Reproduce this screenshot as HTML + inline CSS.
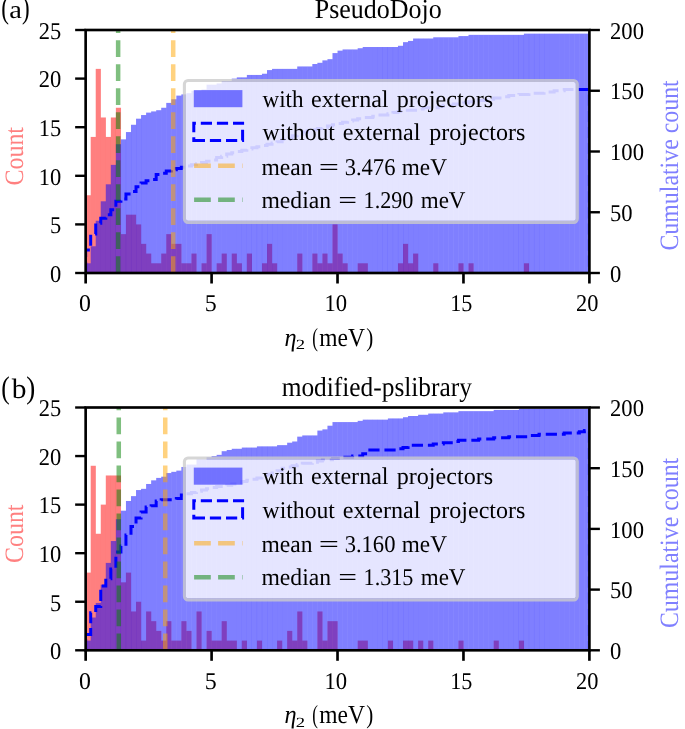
<!DOCTYPE html><html><head><meta charset="utf-8"><title>fig</title><style>html,body{margin:0;padding:0;background:#fff}svg{display:block}text{font-family:"Liberation Serif", serif;fill:#000;text-rendering:geometricPrecision}</style></head><body>
<svg width="685" height="729" viewBox="0 0 685 729" style="will-change:transform">
<rect width="685" height="729" fill="#fff"/>
<g>
<clipPath id="cp0"><rect x="86.85000000000001" y="30.0" width="501.35" height="243.0"/></clipPath>
<g fill="#ff0000" fill-opacity="0.5">
<rect x="85.65" y="195.24" width="5.14" height="77.76"/>
<rect x="90.69" y="136.92" width="5.14" height="136.08"/>
<rect x="95.73" y="68.88" width="5.14" height="204.12"/>
<rect x="100.76" y="117.48" width="5.14" height="155.52"/>
<rect x="105.80" y="136.92" width="5.14" height="136.08"/>
<rect x="110.84" y="117.48" width="5.14" height="155.52"/>
<rect x="115.88" y="107.76" width="5.14" height="165.24"/>
<rect x="120.91" y="234.12" width="5.14" height="38.88"/>
<rect x="125.95" y="214.68" width="5.14" height="58.32"/>
<rect x="130.99" y="214.68" width="5.14" height="58.32"/>
<rect x="136.03" y="224.40" width="5.14" height="48.60"/>
<rect x="141.06" y="243.84" width="5.14" height="29.16"/>
<rect x="146.10" y="253.56" width="5.14" height="19.44"/>
<rect x="151.14" y="263.28" width="5.14" height="9.72"/>
<rect x="156.18" y="263.28" width="5.14" height="9.72"/>
<rect x="161.21" y="253.56" width="5.14" height="19.44"/>
<rect x="166.25" y="234.12" width="5.14" height="38.88"/>
<rect x="171.29" y="243.84" width="5.14" height="29.16"/>
<rect x="176.33" y="243.84" width="5.14" height="29.16"/>
<rect x="181.36" y="263.28" width="5.14" height="9.72"/>
<rect x="186.40" y="263.28" width="5.14" height="9.72"/>
<rect x="191.44" y="253.56" width="5.14" height="19.44"/>
<rect x="201.51" y="263.28" width="5.14" height="9.72"/>
<rect x="206.55" y="234.12" width="5.14" height="38.88"/>
<rect x="216.63" y="263.28" width="5.14" height="9.72"/>
<rect x="221.66" y="253.56" width="5.14" height="19.44"/>
<rect x="231.74" y="253.56" width="5.14" height="19.44"/>
<rect x="236.78" y="263.28" width="5.14" height="9.72"/>
<rect x="246.85" y="253.56" width="5.14" height="19.44"/>
<rect x="261.96" y="263.28" width="5.14" height="9.72"/>
<rect x="267.00" y="243.84" width="5.14" height="29.16"/>
<rect x="272.04" y="263.28" width="5.14" height="9.72"/>
<rect x="297.23" y="253.56" width="5.14" height="19.44"/>
<rect x="312.34" y="253.56" width="5.14" height="19.44"/>
<rect x="317.38" y="263.28" width="5.14" height="9.72"/>
<rect x="322.41" y="253.56" width="5.14" height="19.44"/>
<rect x="327.45" y="263.28" width="5.14" height="9.72"/>
<rect x="332.49" y="224.40" width="5.14" height="48.60"/>
<rect x="337.53" y="253.56" width="5.14" height="19.44"/>
<rect x="342.56" y="263.28" width="5.14" height="9.72"/>
<rect x="357.68" y="263.28" width="5.14" height="9.72"/>
<rect x="362.71" y="263.28" width="5.14" height="9.72"/>
<rect x="397.98" y="263.28" width="5.14" height="9.72"/>
<rect x="403.01" y="243.84" width="5.14" height="29.16"/>
<rect x="408.05" y="263.28" width="5.14" height="9.72"/>
<rect x="413.09" y="253.56" width="5.14" height="19.44"/>
<rect x="433.24" y="263.28" width="5.14" height="9.72"/>
<rect x="458.43" y="263.28" width="5.14" height="9.72"/>
<rect x="468.50" y="263.28" width="5.14" height="9.72"/>
<rect x="523.91" y="263.28" width="5.14" height="9.72"/>
</g>
<g fill="#0000ff" fill-opacity="0.5">
<rect x="85.65" y="263.28" width="5.14" height="9.72"/>
<rect x="90.69" y="246.27" width="5.14" height="26.73"/>
<rect x="95.73" y="220.75" width="5.14" height="52.25"/>
<rect x="100.76" y="201.31" width="5.14" height="71.69"/>
<rect x="105.80" y="184.31" width="5.14" height="88.70"/>
<rect x="110.84" y="164.87" width="5.14" height="108.14"/>
<rect x="115.88" y="144.21" width="5.14" height="128.79"/>
<rect x="120.91" y="139.35" width="5.14" height="133.65"/>
<rect x="125.95" y="132.06" width="5.14" height="140.94"/>
<rect x="130.99" y="124.77" width="5.14" height="148.23"/>
<rect x="136.03" y="118.69" width="5.14" height="154.31"/>
<rect x="141.06" y="115.05" width="5.14" height="157.95"/>
<rect x="146.10" y="112.62" width="5.14" height="160.38"/>
<rect x="151.14" y="111.41" width="5.14" height="161.59"/>
<rect x="156.18" y="110.19" width="5.14" height="162.81"/>
<rect x="161.21" y="107.76" width="5.14" height="165.24"/>
<rect x="166.25" y="102.90" width="5.14" height="170.10"/>
<rect x="171.29" y="99.25" width="5.14" height="173.75"/>
<rect x="176.33" y="95.61" width="5.14" height="177.39"/>
<rect x="181.36" y="94.39" width="5.14" height="178.61"/>
<rect x="186.40" y="93.18" width="5.14" height="179.82"/>
<rect x="191.44" y="90.75" width="5.14" height="182.25"/>
<rect x="196.48" y="90.75" width="5.14" height="182.25"/>
<rect x="201.51" y="89.53" width="5.14" height="183.47"/>
<rect x="206.55" y="84.67" width="5.14" height="188.33"/>
<rect x="211.59" y="84.67" width="5.14" height="188.33"/>
<rect x="216.63" y="83.46" width="5.14" height="189.54"/>
<rect x="221.66" y="81.03" width="5.14" height="191.97"/>
<rect x="226.70" y="81.03" width="5.14" height="191.97"/>
<rect x="231.74" y="78.60" width="5.14" height="194.40"/>
<rect x="236.78" y="77.38" width="5.14" height="195.62"/>
<rect x="241.81" y="77.38" width="5.14" height="195.62"/>
<rect x="246.85" y="74.95" width="5.14" height="198.05"/>
<rect x="251.89" y="74.95" width="5.14" height="198.05"/>
<rect x="256.93" y="74.95" width="5.14" height="198.05"/>
<rect x="261.96" y="73.74" width="5.14" height="199.26"/>
<rect x="267.00" y="70.09" width="5.14" height="202.91"/>
<rect x="272.04" y="68.88" width="5.14" height="204.12"/>
<rect x="277.08" y="68.88" width="5.14" height="204.12"/>
<rect x="282.11" y="68.88" width="5.14" height="204.12"/>
<rect x="287.15" y="68.88" width="5.14" height="204.12"/>
<rect x="292.19" y="68.88" width="5.14" height="204.12"/>
<rect x="297.23" y="66.45" width="5.14" height="206.55"/>
<rect x="302.26" y="66.45" width="5.14" height="206.55"/>
<rect x="307.30" y="66.45" width="5.14" height="206.55"/>
<rect x="312.34" y="64.02" width="5.14" height="208.98"/>
<rect x="317.38" y="62.80" width="5.14" height="210.20"/>
<rect x="322.41" y="60.38" width="5.14" height="212.62"/>
<rect x="327.45" y="59.16" width="5.14" height="213.84"/>
<rect x="332.49" y="53.08" width="5.14" height="219.92"/>
<rect x="337.53" y="50.65" width="5.14" height="222.35"/>
<rect x="342.56" y="49.44" width="5.14" height="223.56"/>
<rect x="347.60" y="49.44" width="5.14" height="223.56"/>
<rect x="352.64" y="49.44" width="5.14" height="223.56"/>
<rect x="357.68" y="48.22" width="5.14" height="224.78"/>
<rect x="362.71" y="47.01" width="5.14" height="225.99"/>
<rect x="367.75" y="47.01" width="5.14" height="225.99"/>
<rect x="372.79" y="47.01" width="5.14" height="225.99"/>
<rect x="377.83" y="47.01" width="5.14" height="225.99"/>
<rect x="382.86" y="47.01" width="5.14" height="225.99"/>
<rect x="387.90" y="47.01" width="5.14" height="225.99"/>
<rect x="392.94" y="47.01" width="5.14" height="225.99"/>
<rect x="397.98" y="45.79" width="5.14" height="227.21"/>
<rect x="403.01" y="42.15" width="5.14" height="230.85"/>
<rect x="408.05" y="40.93" width="5.14" height="232.07"/>
<rect x="413.09" y="38.50" width="5.14" height="234.50"/>
<rect x="418.12" y="38.50" width="5.14" height="234.50"/>
<rect x="423.16" y="38.50" width="5.14" height="234.50"/>
<rect x="428.20" y="38.50" width="5.14" height="234.50"/>
<rect x="433.24" y="37.29" width="5.14" height="235.71"/>
<rect x="438.28" y="37.29" width="5.14" height="235.71"/>
<rect x="443.31" y="37.29" width="5.14" height="235.71"/>
<rect x="448.35" y="37.29" width="5.14" height="235.71"/>
<rect x="453.39" y="37.29" width="5.14" height="235.71"/>
<rect x="458.43" y="36.07" width="5.14" height="236.93"/>
<rect x="463.46" y="36.07" width="5.14" height="236.93"/>
<rect x="468.50" y="34.86" width="5.14" height="238.14"/>
<rect x="473.54" y="34.86" width="5.14" height="238.14"/>
<rect x="478.58" y="34.86" width="5.14" height="238.14"/>
<rect x="483.61" y="34.86" width="5.14" height="238.14"/>
<rect x="488.65" y="34.86" width="5.14" height="238.14"/>
<rect x="493.69" y="34.86" width="5.14" height="238.14"/>
<rect x="498.73" y="34.86" width="5.14" height="238.14"/>
<rect x="503.76" y="34.86" width="5.14" height="238.14"/>
<rect x="508.80" y="34.86" width="5.14" height="238.14"/>
<rect x="513.84" y="34.86" width="5.14" height="238.14"/>
<rect x="518.88" y="34.86" width="5.14" height="238.14"/>
<rect x="523.91" y="33.64" width="5.14" height="239.36"/>
<rect x="528.95" y="33.64" width="5.14" height="239.36"/>
<rect x="533.99" y="33.64" width="5.14" height="239.36"/>
<rect x="539.03" y="33.64" width="5.14" height="239.36"/>
<rect x="544.06" y="33.64" width="5.14" height="239.36"/>
<rect x="549.10" y="33.64" width="5.14" height="239.36"/>
<rect x="554.14" y="33.64" width="5.14" height="239.36"/>
<rect x="559.18" y="33.64" width="5.14" height="239.36"/>
<rect x="564.21" y="33.64" width="5.14" height="239.36"/>
<rect x="569.25" y="33.64" width="5.14" height="239.36"/>
<rect x="574.29" y="33.64" width="5.14" height="239.36"/>
<rect x="579.33" y="33.64" width="5.14" height="239.36"/>
<rect x="584.36" y="33.64" width="5.14" height="239.36"/>
</g>
<path d="M85.65,273.00V249.91H90.69V234.12H95.73V223.19H100.76V218.32H105.80V214.68H110.84V209.82H115.88V201.31H120.91V198.88H125.95V194.02H130.99V191.59H136.03V186.74H141.06V183.09H146.10V180.66H151.14V179.44H156.18V174.58H161.21V173.37H166.25V170.94H171.29V169.72H176.33V168.51H181.36V167.29H186.40V166.08H191.44V164.87H196.48V163.65H201.51V162.44H206.55V161.22H211.59V160.00H216.63V157.57H221.66V156.36H226.70V153.93H231.74V152.71H236.78V151.50H241.81V150.28H246.85V149.07H251.89V147.85H256.93V146.64H261.96V145.43H267.00V144.21H272.04V143.00H277.08V141.78H282.11V139.35H287.15V138.13H292.19V135.70H297.23V134.49H302.26V132.06H307.30V130.84H312.34V129.63H317.38V128.41H322.41V127.20H327.45V125.98H332.49V124.77H337.53V123.55H342.56V122.34H347.60V121.12H352.64V119.91H357.68V118.69H362.71V117.48H367.75V117.48H372.79V116.26H377.83V115.05H382.86V115.05H387.90V113.83H392.94V112.62H397.98V111.41H403.01V110.19H408.05V110.19H413.09V110.19H418.12V108.97H423.16V107.76H428.20V107.76H433.24V107.76H438.28V106.54H443.31V105.33H448.35V105.33H453.39V104.11H458.43V104.11H463.46V102.90H468.50V101.69H473.54V101.69H478.58V100.47H483.61V100.47H488.65V99.25H493.69V98.04H498.73V98.04H503.76V96.82H508.80V95.61H513.84V95.61H518.88V94.39H523.91V94.39H528.95V93.18H533.99V93.18H539.03V93.18H544.06V91.96H549.10V91.96H554.14V90.75H559.18V90.75H564.21V89.53H569.25V89.53H574.29V89.53H579.33V89.53H584.36V89.53H589.40V273.00" fill="none" stroke="#0000ff" stroke-width="3" stroke-dasharray="11.2 4.9" stroke-linejoin="miter" clip-path="url(#cp0)"/>
<line x1="173.20" y1="273.00" x2="173.20" y2="30.00" stroke="#ffa500" stroke-opacity="0.5" stroke-width="4.5" stroke-dasharray="16.7 7.3"/>
<line x1="118.14" y1="273.00" x2="118.14" y2="30.00" stroke="#008000" stroke-opacity="0.5" stroke-width="4.5" stroke-dasharray="16.7 7.3"/>
<rect x="185.9" y="82.00" width="389.90" height="138.85" rx="2.1" ry="2.1" fill="#fff" fill-opacity="0.8"/>
<rect x="184.4" y="80.50" width="392.90" height="141.85" rx="3.6" ry="3.6" fill="none" stroke="#cccccc" stroke-opacity="0.8" stroke-width="3.1"/>
<rect x="193.8" y="90.10" width="48.6" height="17.1" fill="#0000ff" fill-opacity="0.5"/>
<rect x="193.8" y="123.20" width="48.8" height="17.2" fill="none" stroke="#0000ff" stroke-width="3" stroke-dasharray="11.2 4.9" transform="translate(0,263.60) scale(1,-1)"/>
<line x1="194.1" y1="165.70" x2="242.6" y2="165.70" stroke="#ffa500" stroke-opacity="0.5" stroke-width="4.5" stroke-dasharray="16.7 7.3"/>
<line x1="194.1" y1="199.70" x2="242.6" y2="199.70" stroke="#008000" stroke-opacity="0.5" stroke-width="4.5" stroke-dasharray="16.7 7.3"/>
<text x="262.50" y="106.90" font-size="24" textLength="40.99" lengthAdjust="spacingAndGlyphs">with</text>
<text x="311.00" y="106.90" font-size="24" textLength="77.57" lengthAdjust="spacingAndGlyphs">external</text>
<text x="396.70" y="106.90" font-size="24" textLength="96.45" lengthAdjust="spacingAndGlyphs">projectors</text>
<text x="262.50" y="140.00" font-size="24" textLength="72.47" lengthAdjust="spacingAndGlyphs">without</text>
<text x="342.80" y="140.00" font-size="24" textLength="77.67" lengthAdjust="spacingAndGlyphs">external</text>
<text x="429.30" y="140.00" font-size="24" textLength="96.14" lengthAdjust="spacingAndGlyphs">projectors</text>
<text x="261.41" y="174.50" font-size="24" textLength="51.09" lengthAdjust="spacingAndGlyphs">mean</text>
<text x="318.65" y="174.50" font-size="24" textLength="20.24" lengthAdjust="spacingAndGlyphs">=</text>
<text x="344.67" y="174.50" font-size="24" textLength="50.79" lengthAdjust="spacingAndGlyphs">3.476</text>
<text x="401.82" y="174.50" font-size="24" textLength="45.11" lengthAdjust="spacingAndGlyphs">meV</text>
<text x="261.41" y="207.80" font-size="24" textLength="69.69" lengthAdjust="spacingAndGlyphs">median</text>
<text x="338.27" y="207.80" font-size="24" textLength="18.81" lengthAdjust="spacingAndGlyphs">=</text>
<text x="363.56" y="207.80" font-size="24" textLength="49.87" lengthAdjust="spacingAndGlyphs">1.290</text>
<text x="420.72" y="207.80" font-size="24" textLength="44.80" lengthAdjust="spacingAndGlyphs">meV</text>
<rect x="85.65" y="30.0" width="503.75" height="243.0" fill="none" stroke="#000" stroke-width="2.65"/>
<line x1="85.65" y1="273.0" x2="85.65" y2="283.5" stroke="#000" stroke-width="2.65"/>
<text x="78.91" y="311.40" font-size="24" textLength="11.88" lengthAdjust="spacingAndGlyphs">0</text>
<line x1="211.59" y1="273.0" x2="211.59" y2="283.5" stroke="#000" stroke-width="2.65"/>
<text x="204.70" y="311.40" font-size="24" textLength="12.00" lengthAdjust="spacingAndGlyphs">5</text>
<line x1="337.52" y1="273.0" x2="337.52" y2="283.5" stroke="#000" stroke-width="2.65"/>
<text x="324.52" y="311.40" font-size="24" textLength="22.63" lengthAdjust="spacingAndGlyphs">10</text>
<line x1="463.46" y1="273.0" x2="463.46" y2="283.5" stroke="#000" stroke-width="2.65"/>
<text x="450.16" y="311.40" font-size="24" textLength="22.17" lengthAdjust="spacingAndGlyphs">15</text>
<line x1="589.40" y1="273.0" x2="589.40" y2="283.5" stroke="#000" stroke-width="2.65"/>
<text x="576.07" y="311.40" font-size="24" textLength="22.37" lengthAdjust="spacingAndGlyphs">20</text>
<line x1="75.15" y1="273.00" x2="85.65" y2="273.00" stroke="#000" stroke-width="2.4"/>
<text x="50.10" y="281.80" font-size="24" textLength="11.24" lengthAdjust="spacingAndGlyphs">0</text>
<line x1="75.15" y1="224.40" x2="85.65" y2="224.40" stroke="#000" stroke-width="2.4"/>
<text x="50.10" y="233.20" font-size="24" textLength="11.24" lengthAdjust="spacingAndGlyphs">5</text>
<line x1="75.15" y1="175.80" x2="85.65" y2="175.80" stroke="#000" stroke-width="2.4"/>
<text x="38.86" y="184.60" font-size="24" textLength="22.48" lengthAdjust="spacingAndGlyphs">10</text>
<line x1="75.15" y1="127.20" x2="85.65" y2="127.20" stroke="#000" stroke-width="2.4"/>
<text x="38.86" y="136.00" font-size="24" textLength="22.48" lengthAdjust="spacingAndGlyphs">15</text>
<line x1="75.15" y1="78.60" x2="85.65" y2="78.60" stroke="#000" stroke-width="2.4"/>
<text x="38.86" y="87.40" font-size="24" textLength="22.48" lengthAdjust="spacingAndGlyphs">20</text>
<line x1="75.15" y1="30.00" x2="85.65" y2="30.00" stroke="#000" stroke-width="2.4"/>
<text x="38.86" y="38.80" font-size="24" textLength="22.48" lengthAdjust="spacingAndGlyphs">25</text>
<line x1="589.4" y1="273.00" x2="599.9" y2="273.00" stroke="#000" stroke-width="2.4"/>
<text x="610.06" y="281.60" font-size="24" textLength="11.30" lengthAdjust="spacingAndGlyphs">0</text>
<line x1="589.4" y1="212.25" x2="599.9" y2="212.25" stroke="#000" stroke-width="2.4"/>
<text x="610.06" y="220.85" font-size="24" textLength="22.59" lengthAdjust="spacingAndGlyphs">50</text>
<line x1="589.4" y1="151.50" x2="599.9" y2="151.50" stroke="#000" stroke-width="2.4"/>
<text x="610.06" y="160.10" font-size="24" textLength="33.89" lengthAdjust="spacingAndGlyphs">100</text>
<line x1="589.4" y1="90.75" x2="599.9" y2="90.75" stroke="#000" stroke-width="2.4"/>
<text x="610.06" y="99.35" font-size="24" textLength="33.89" lengthAdjust="spacingAndGlyphs">150</text>
<line x1="589.4" y1="30.00" x2="599.9" y2="30.00" stroke="#000" stroke-width="2.4"/>
<text x="610.06" y="38.60" font-size="24" textLength="33.89" lengthAdjust="spacingAndGlyphs">200</text>
<g transform="translate(23.0,184.80) rotate(-90)"><text x="-0.75" y="0.00" font-size="26.5" textLength="58.57" lengthAdjust="spacingAndGlyphs" style="fill:#ff8080">Count</text></g>
<g transform="translate(677.9,249.80) rotate(-90)"><text x="-0.75" y="0.00" font-size="26.5" textLength="170.26" lengthAdjust="spacingAndGlyphs" style="fill:#8080ff">Cumulative count</text></g>
<text x="284.44" y="345.90" font-size="26" font-style="italic" textLength="12.02" lengthAdjust="spacingAndGlyphs">η</text>
<text x="295.80" y="349.30" font-size="14" textLength="9.33" lengthAdjust="spacingAndGlyphs">2</text>
<text x="312.17" y="345.90" font-size="26" textLength="5.68" lengthAdjust="spacingAndGlyphs">(</text>
<text x="319.33" y="345.90" font-size="26" textLength="45.65" lengthAdjust="spacingAndGlyphs">meV</text>
<text x="366.14" y="345.90" font-size="26" textLength="7.02" lengthAdjust="spacingAndGlyphs">)</text>
<text x="314.79" y="18.30" font-size="27.5" textLength="126.92" lengthAdjust="spacingAndGlyphs">PseudoDojo</text>
<text x="1.18" y="17.80" font-size="31.2" textLength="7.70" lengthAdjust="spacingAndGlyphs">(</text>
<text x="9.21" y="18.40" font-size="25.5" textLength="12.65" lengthAdjust="spacingAndGlyphs">a</text>
<text x="22.08" y="17.80" font-size="31.2" textLength="7.65" lengthAdjust="spacingAndGlyphs">)</text>
</g>
<g>
<clipPath id="cp1"><rect x="86.85000000000001" y="407.5" width="501.35" height="242.79999999999995"/></clipPath>
<g fill="#ff0000" fill-opacity="0.5">
<rect x="85.65" y="572.60" width="5.14" height="77.70"/>
<rect x="90.69" y="465.77" width="5.14" height="184.53"/>
<rect x="95.73" y="533.76" width="5.14" height="116.54"/>
<rect x="100.76" y="504.62" width="5.14" height="145.68"/>
<rect x="105.80" y="475.48" width="5.14" height="174.82"/>
<rect x="110.84" y="475.48" width="5.14" height="174.82"/>
<rect x="115.88" y="475.48" width="5.14" height="174.82"/>
<rect x="120.91" y="582.32" width="5.14" height="67.98"/>
<rect x="125.95" y="572.60" width="5.14" height="77.70"/>
<rect x="130.99" y="611.45" width="5.14" height="38.85"/>
<rect x="136.03" y="601.74" width="5.14" height="48.56"/>
<rect x="141.06" y="640.59" width="5.14" height="9.71"/>
<rect x="146.10" y="611.45" width="5.14" height="38.85"/>
<rect x="151.14" y="621.16" width="5.14" height="29.14"/>
<rect x="156.18" y="630.88" width="5.14" height="19.42"/>
<rect x="161.21" y="640.59" width="5.14" height="9.71"/>
<rect x="166.25" y="621.16" width="5.14" height="29.14"/>
<rect x="171.29" y="640.59" width="5.14" height="9.71"/>
<rect x="176.33" y="640.59" width="5.14" height="9.71"/>
<rect x="181.36" y="621.16" width="5.14" height="29.14"/>
<rect x="186.40" y="630.88" width="5.14" height="19.42"/>
<rect x="196.48" y="611.45" width="5.14" height="38.85"/>
<rect x="206.55" y="630.88" width="5.14" height="19.42"/>
<rect x="211.59" y="640.59" width="5.14" height="9.71"/>
<rect x="216.63" y="640.59" width="5.14" height="9.71"/>
<rect x="221.66" y="621.16" width="5.14" height="29.14"/>
<rect x="226.70" y="640.59" width="5.14" height="9.71"/>
<rect x="231.74" y="640.59" width="5.14" height="9.71"/>
<rect x="241.81" y="640.59" width="5.14" height="9.71"/>
<rect x="256.93" y="640.59" width="5.14" height="9.71"/>
<rect x="277.08" y="640.59" width="5.14" height="9.71"/>
<rect x="287.15" y="630.88" width="5.14" height="19.42"/>
<rect x="292.19" y="640.59" width="5.14" height="9.71"/>
<rect x="297.23" y="611.45" width="5.14" height="38.85"/>
<rect x="302.26" y="640.59" width="5.14" height="9.71"/>
<rect x="317.38" y="611.45" width="5.14" height="38.85"/>
<rect x="322.41" y="640.59" width="5.14" height="9.71"/>
<rect x="327.45" y="621.16" width="5.14" height="29.14"/>
<rect x="332.49" y="621.16" width="5.14" height="29.14"/>
<rect x="357.68" y="640.59" width="5.14" height="9.71"/>
<rect x="362.71" y="640.59" width="5.14" height="9.71"/>
<rect x="387.90" y="640.59" width="5.14" height="9.71"/>
<rect x="403.01" y="640.59" width="5.14" height="9.71"/>
<rect x="408.05" y="640.59" width="5.14" height="9.71"/>
<rect x="418.12" y="640.59" width="5.14" height="9.71"/>
<rect x="428.20" y="640.59" width="5.14" height="9.71"/>
<rect x="458.43" y="640.59" width="5.14" height="9.71"/>
<rect x="493.69" y="640.59" width="5.14" height="9.71"/>
<rect x="518.88" y="640.59" width="5.14" height="9.71"/>
</g>
<g fill="#0000ff" fill-opacity="0.5">
<rect x="85.65" y="640.59" width="5.14" height="9.71"/>
<rect x="90.69" y="617.52" width="5.14" height="32.78"/>
<rect x="95.73" y="602.95" width="5.14" height="47.35"/>
<rect x="100.76" y="584.74" width="5.14" height="65.56"/>
<rect x="105.80" y="562.89" width="5.14" height="87.41"/>
<rect x="110.84" y="541.04" width="5.14" height="109.26"/>
<rect x="115.88" y="519.19" width="5.14" height="131.11"/>
<rect x="120.91" y="510.69" width="5.14" height="139.61"/>
<rect x="125.95" y="500.98" width="5.14" height="149.32"/>
<rect x="130.99" y="496.12" width="5.14" height="154.18"/>
<rect x="136.03" y="490.05" width="5.14" height="160.25"/>
<rect x="141.06" y="488.84" width="5.14" height="161.46"/>
<rect x="146.10" y="483.98" width="5.14" height="166.32"/>
<rect x="151.14" y="480.34" width="5.14" height="169.96"/>
<rect x="156.18" y="477.91" width="5.14" height="172.39"/>
<rect x="161.21" y="476.70" width="5.14" height="173.60"/>
<rect x="166.25" y="473.06" width="5.14" height="177.24"/>
<rect x="171.29" y="471.84" width="5.14" height="178.46"/>
<rect x="176.33" y="470.63" width="5.14" height="179.67"/>
<rect x="181.36" y="466.99" width="5.14" height="183.31"/>
<rect x="186.40" y="464.56" width="5.14" height="185.74"/>
<rect x="191.44" y="464.56" width="5.14" height="185.74"/>
<rect x="196.48" y="459.70" width="5.14" height="190.60"/>
<rect x="201.51" y="459.70" width="5.14" height="190.60"/>
<rect x="206.55" y="457.27" width="5.14" height="193.03"/>
<rect x="211.59" y="456.06" width="5.14" height="194.24"/>
<rect x="216.63" y="454.85" width="5.14" height="195.45"/>
<rect x="221.66" y="451.20" width="5.14" height="199.10"/>
<rect x="226.70" y="449.99" width="5.14" height="200.31"/>
<rect x="231.74" y="448.78" width="5.14" height="201.52"/>
<rect x="236.78" y="448.78" width="5.14" height="201.52"/>
<rect x="241.81" y="447.56" width="5.14" height="202.74"/>
<rect x="246.85" y="447.56" width="5.14" height="202.74"/>
<rect x="251.89" y="447.56" width="5.14" height="202.74"/>
<rect x="256.93" y="446.35" width="5.14" height="203.95"/>
<rect x="261.96" y="446.35" width="5.14" height="203.95"/>
<rect x="267.00" y="446.35" width="5.14" height="203.95"/>
<rect x="272.04" y="446.35" width="5.14" height="203.95"/>
<rect x="277.08" y="445.13" width="5.14" height="205.17"/>
<rect x="282.11" y="445.13" width="5.14" height="205.17"/>
<rect x="287.15" y="442.71" width="5.14" height="207.59"/>
<rect x="292.19" y="441.49" width="5.14" height="208.81"/>
<rect x="297.23" y="436.64" width="5.14" height="213.66"/>
<rect x="302.26" y="435.42" width="5.14" height="214.88"/>
<rect x="307.30" y="435.42" width="5.14" height="214.88"/>
<rect x="312.34" y="435.42" width="5.14" height="214.88"/>
<rect x="317.38" y="430.57" width="5.14" height="219.73"/>
<rect x="322.41" y="429.35" width="5.14" height="220.95"/>
<rect x="327.45" y="425.71" width="5.14" height="224.59"/>
<rect x="332.49" y="422.07" width="5.14" height="228.23"/>
<rect x="337.53" y="422.07" width="5.14" height="228.23"/>
<rect x="342.56" y="422.07" width="5.14" height="228.23"/>
<rect x="347.60" y="422.07" width="5.14" height="228.23"/>
<rect x="352.64" y="422.07" width="5.14" height="228.23"/>
<rect x="357.68" y="420.85" width="5.14" height="229.45"/>
<rect x="362.71" y="419.64" width="5.14" height="230.66"/>
<rect x="367.75" y="419.64" width="5.14" height="230.66"/>
<rect x="372.79" y="419.64" width="5.14" height="230.66"/>
<rect x="377.83" y="419.64" width="5.14" height="230.66"/>
<rect x="382.86" y="419.64" width="5.14" height="230.66"/>
<rect x="387.90" y="418.43" width="5.14" height="231.87"/>
<rect x="392.94" y="418.43" width="5.14" height="231.87"/>
<rect x="397.98" y="418.43" width="5.14" height="231.87"/>
<rect x="403.01" y="417.21" width="5.14" height="233.09"/>
<rect x="408.05" y="416.00" width="5.14" height="234.30"/>
<rect x="413.09" y="416.00" width="5.14" height="234.30"/>
<rect x="418.12" y="414.78" width="5.14" height="235.52"/>
<rect x="423.16" y="414.78" width="5.14" height="235.52"/>
<rect x="428.20" y="413.57" width="5.14" height="236.73"/>
<rect x="433.24" y="413.57" width="5.14" height="236.73"/>
<rect x="438.28" y="413.57" width="5.14" height="236.73"/>
<rect x="443.31" y="412.36" width="5.14" height="237.94"/>
<rect x="448.35" y="412.36" width="5.14" height="237.94"/>
<rect x="453.39" y="412.36" width="5.14" height="237.94"/>
<rect x="458.43" y="411.14" width="5.14" height="239.16"/>
<rect x="463.46" y="411.14" width="5.14" height="239.16"/>
<rect x="468.50" y="411.14" width="5.14" height="239.16"/>
<rect x="473.54" y="411.14" width="5.14" height="239.16"/>
<rect x="478.58" y="411.14" width="5.14" height="239.16"/>
<rect x="483.61" y="411.14" width="5.14" height="239.16"/>
<rect x="488.65" y="411.14" width="5.14" height="239.16"/>
<rect x="493.69" y="409.93" width="5.14" height="240.37"/>
<rect x="498.73" y="409.93" width="5.14" height="240.37"/>
<rect x="503.76" y="409.93" width="5.14" height="240.37"/>
<rect x="508.80" y="409.93" width="5.14" height="240.37"/>
<rect x="513.84" y="409.93" width="5.14" height="240.37"/>
<rect x="518.88" y="408.71" width="5.14" height="241.59"/>
<rect x="523.91" y="408.71" width="5.14" height="241.59"/>
<rect x="528.95" y="408.71" width="5.14" height="241.59"/>
<rect x="533.99" y="408.71" width="5.14" height="241.59"/>
<rect x="539.03" y="408.71" width="5.14" height="241.59"/>
<rect x="544.06" y="408.71" width="5.14" height="241.59"/>
<rect x="549.10" y="408.71" width="5.14" height="241.59"/>
<rect x="554.14" y="408.71" width="5.14" height="241.59"/>
<rect x="559.18" y="408.71" width="5.14" height="241.59"/>
<rect x="564.21" y="408.71" width="5.14" height="241.59"/>
<rect x="569.25" y="408.71" width="5.14" height="241.59"/>
<rect x="574.29" y="408.71" width="5.14" height="241.59"/>
<rect x="579.33" y="408.71" width="5.14" height="241.59"/>
<rect x="584.36" y="408.71" width="5.14" height="241.59"/>
</g>
<path d="M85.65,650.30V634.52H90.69V612.67H95.73V606.60H100.76V585.96H105.80V578.67H110.84V568.96H115.88V551.97H120.91V545.90H125.95V534.97H130.99V526.47H136.03V517.97H141.06V511.90H146.10V507.05H151.14V505.83H156.18V500.98H161.21V499.76H166.25V499.76H171.29V499.76H176.33V498.55H181.36V494.91H186.40V493.69H191.44V492.48H196.48V491.27H201.51V490.05H206.55V488.84H211.59V487.62H216.63V486.41H221.66V486.41H226.70V485.20H231.74V483.98H236.78V482.77H241.81V481.55H246.85V480.34H251.89V479.13H256.93V477.91H261.96V475.48H267.00V474.27H272.04V473.06H277.08V470.63H282.11V468.20H287.15V466.99H292.19V465.77H297.23V464.56H302.26V463.34H307.30V463.34H312.34V462.13H317.38V460.92H322.41V459.70H327.45V459.70H332.49V458.49H337.53V458.49H342.56V457.27H347.60V457.27H352.64V456.06H357.68V456.06H362.71V453.63H367.75V449.99H372.79V449.99H377.83V449.99H382.86V449.99H387.90V449.99H392.94V449.99H397.98V448.78H403.01V447.56H408.05V445.13H413.09V445.13H418.12V445.13H423.16V445.13H428.20V445.13H433.24V443.92H438.28V443.92H443.31V442.71H448.35V442.71H453.39V441.49H458.43V440.28H463.46V440.28H468.50V440.28H473.54V440.28H478.58V439.06H483.61V439.06H488.65V439.06H493.69V437.85H498.73V437.85H503.76V437.85H508.80V436.64H513.84V436.64H518.88V436.64H523.91V436.64H528.95V435.42H533.99V435.42H539.03V434.21H544.06V434.21H549.10V434.21H554.14V434.21H559.18V434.21H564.21V432.99H569.25V432.99H574.29V432.99H579.33V431.78H584.36V430.57H589.40V650.30" fill="none" stroke="#0000ff" stroke-width="3" stroke-dasharray="11.2 4.9" stroke-linejoin="miter" clip-path="url(#cp1)"/>
<line x1="165.24" y1="650.30" x2="165.24" y2="407.50" stroke="#ffa500" stroke-opacity="0.5" stroke-width="4.5" stroke-dasharray="16.7 7.3"/>
<line x1="118.77" y1="650.30" x2="118.77" y2="407.50" stroke="#008000" stroke-opacity="0.5" stroke-width="4.5" stroke-dasharray="16.7 7.3"/>
<rect x="185.9" y="459.50" width="389.90" height="138.85" rx="2.1" ry="2.1" fill="#fff" fill-opacity="0.8"/>
<rect x="184.4" y="458.00" width="392.90" height="141.85" rx="3.6" ry="3.6" fill="none" stroke="#cccccc" stroke-opacity="0.8" stroke-width="3.1"/>
<rect x="193.8" y="467.60" width="48.6" height="17.1" fill="#0000ff" fill-opacity="0.5"/>
<rect x="193.8" y="500.70" width="48.8" height="17.2" fill="none" stroke="#0000ff" stroke-width="3" stroke-dasharray="11.2 4.9" transform="translate(0,1018.60) scale(1,-1)"/>
<line x1="194.1" y1="543.20" x2="242.6" y2="543.20" stroke="#ffa500" stroke-opacity="0.5" stroke-width="4.5" stroke-dasharray="16.7 7.3"/>
<line x1="194.1" y1="577.20" x2="242.6" y2="577.20" stroke="#008000" stroke-opacity="0.5" stroke-width="4.5" stroke-dasharray="16.7 7.3"/>
<text x="262.50" y="484.40" font-size="24" textLength="40.99" lengthAdjust="spacingAndGlyphs">with</text>
<text x="311.00" y="484.40" font-size="24" textLength="77.57" lengthAdjust="spacingAndGlyphs">external</text>
<text x="396.70" y="484.40" font-size="24" textLength="96.45" lengthAdjust="spacingAndGlyphs">projectors</text>
<text x="262.50" y="517.50" font-size="24" textLength="72.47" lengthAdjust="spacingAndGlyphs">without</text>
<text x="342.80" y="517.50" font-size="24" textLength="77.67" lengthAdjust="spacingAndGlyphs">external</text>
<text x="429.30" y="517.50" font-size="24" textLength="96.14" lengthAdjust="spacingAndGlyphs">projectors</text>
<text x="261.41" y="552.00" font-size="24" textLength="51.09" lengthAdjust="spacingAndGlyphs">mean</text>
<text x="318.65" y="552.00" font-size="24" textLength="20.24" lengthAdjust="spacingAndGlyphs">=</text>
<text x="344.67" y="552.00" font-size="24" textLength="50.79" lengthAdjust="spacingAndGlyphs">3.160</text>
<text x="401.82" y="552.00" font-size="24" textLength="45.11" lengthAdjust="spacingAndGlyphs">meV</text>
<text x="261.41" y="585.30" font-size="24" textLength="69.69" lengthAdjust="spacingAndGlyphs">median</text>
<text x="338.27" y="585.30" font-size="24" textLength="18.81" lengthAdjust="spacingAndGlyphs">=</text>
<text x="363.56" y="585.30" font-size="24" textLength="49.87" lengthAdjust="spacingAndGlyphs">1.315</text>
<text x="420.72" y="585.30" font-size="24" textLength="44.80" lengthAdjust="spacingAndGlyphs">meV</text>
<rect x="85.65" y="407.5" width="503.75" height="242.79999999999995" fill="none" stroke="#000" stroke-width="2.65"/>
<line x1="85.65" y1="650.3" x2="85.65" y2="660.8" stroke="#000" stroke-width="2.65"/>
<text x="78.91" y="688.70" font-size="24" textLength="11.88" lengthAdjust="spacingAndGlyphs">0</text>
<line x1="211.59" y1="650.3" x2="211.59" y2="660.8" stroke="#000" stroke-width="2.65"/>
<text x="204.70" y="688.70" font-size="24" textLength="12.00" lengthAdjust="spacingAndGlyphs">5</text>
<line x1="337.52" y1="650.3" x2="337.52" y2="660.8" stroke="#000" stroke-width="2.65"/>
<text x="324.52" y="688.70" font-size="24" textLength="22.63" lengthAdjust="spacingAndGlyphs">10</text>
<line x1="463.46" y1="650.3" x2="463.46" y2="660.8" stroke="#000" stroke-width="2.65"/>
<text x="450.16" y="688.70" font-size="24" textLength="22.17" lengthAdjust="spacingAndGlyphs">15</text>
<line x1="589.40" y1="650.3" x2="589.40" y2="660.8" stroke="#000" stroke-width="2.65"/>
<text x="576.07" y="688.70" font-size="24" textLength="22.37" lengthAdjust="spacingAndGlyphs">20</text>
<line x1="75.15" y1="650.30" x2="85.65" y2="650.30" stroke="#000" stroke-width="2.4"/>
<text x="50.10" y="659.10" font-size="24" textLength="11.24" lengthAdjust="spacingAndGlyphs">0</text>
<line x1="75.15" y1="601.74" x2="85.65" y2="601.74" stroke="#000" stroke-width="2.4"/>
<text x="50.10" y="610.54" font-size="24" textLength="11.24" lengthAdjust="spacingAndGlyphs">5</text>
<line x1="75.15" y1="553.18" x2="85.65" y2="553.18" stroke="#000" stroke-width="2.4"/>
<text x="38.86" y="561.98" font-size="24" textLength="22.48" lengthAdjust="spacingAndGlyphs">10</text>
<line x1="75.15" y1="504.62" x2="85.65" y2="504.62" stroke="#000" stroke-width="2.4"/>
<text x="38.86" y="513.42" font-size="24" textLength="22.48" lengthAdjust="spacingAndGlyphs">15</text>
<line x1="75.15" y1="456.06" x2="85.65" y2="456.06" stroke="#000" stroke-width="2.4"/>
<text x="38.86" y="464.86" font-size="24" textLength="22.48" lengthAdjust="spacingAndGlyphs">20</text>
<line x1="75.15" y1="407.50" x2="85.65" y2="407.50" stroke="#000" stroke-width="2.4"/>
<text x="38.86" y="416.30" font-size="24" textLength="22.48" lengthAdjust="spacingAndGlyphs">25</text>
<line x1="589.4" y1="650.30" x2="599.9" y2="650.30" stroke="#000" stroke-width="2.4"/>
<text x="610.06" y="658.90" font-size="24" textLength="11.30" lengthAdjust="spacingAndGlyphs">0</text>
<line x1="589.4" y1="589.60" x2="599.9" y2="589.60" stroke="#000" stroke-width="2.4"/>
<text x="610.06" y="598.20" font-size="24" textLength="22.59" lengthAdjust="spacingAndGlyphs">50</text>
<line x1="589.4" y1="528.90" x2="599.9" y2="528.90" stroke="#000" stroke-width="2.4"/>
<text x="610.06" y="537.50" font-size="24" textLength="33.89" lengthAdjust="spacingAndGlyphs">100</text>
<line x1="589.4" y1="468.20" x2="599.9" y2="468.20" stroke="#000" stroke-width="2.4"/>
<text x="610.06" y="476.80" font-size="24" textLength="33.89" lengthAdjust="spacingAndGlyphs">150</text>
<line x1="589.4" y1="407.50" x2="599.9" y2="407.50" stroke="#000" stroke-width="2.4"/>
<text x="610.06" y="416.10" font-size="24" textLength="33.89" lengthAdjust="spacingAndGlyphs">200</text>
<g transform="translate(23.0,562.30) rotate(-90)"><text x="-0.75" y="0.00" font-size="26.5" textLength="58.57" lengthAdjust="spacingAndGlyphs" style="fill:#ff8080">Count</text></g>
<g transform="translate(677.9,627.30) rotate(-90)"><text x="-0.75" y="0.00" font-size="26.5" textLength="170.26" lengthAdjust="spacingAndGlyphs" style="fill:#8080ff">Cumulative count</text></g>
<text x="284.44" y="723.20" font-size="26" font-style="italic" textLength="12.02" lengthAdjust="spacingAndGlyphs">η</text>
<text x="295.80" y="726.60" font-size="14" textLength="9.33" lengthAdjust="spacingAndGlyphs">2</text>
<text x="312.17" y="723.20" font-size="26" textLength="5.68" lengthAdjust="spacingAndGlyphs">(</text>
<text x="319.33" y="723.20" font-size="26" textLength="45.65" lengthAdjust="spacingAndGlyphs">meV</text>
<text x="366.14" y="723.20" font-size="26" textLength="7.02" lengthAdjust="spacingAndGlyphs">)</text>
<text x="281.70" y="395.80" font-size="27.5" textLength="190.20" lengthAdjust="spacingAndGlyphs">modified-pslibrary</text>
<text x="1.21" y="398.30" font-size="31.2" textLength="8.41" lengthAdjust="spacingAndGlyphs">(</text>
<text x="11.70" y="398.10" font-size="28" textLength="14.72" lengthAdjust="spacingAndGlyphs">b</text>
<text x="26.15" y="398.30" font-size="31.2" textLength="9.03" lengthAdjust="spacingAndGlyphs">)</text>
</g>
</svg></body></html>
